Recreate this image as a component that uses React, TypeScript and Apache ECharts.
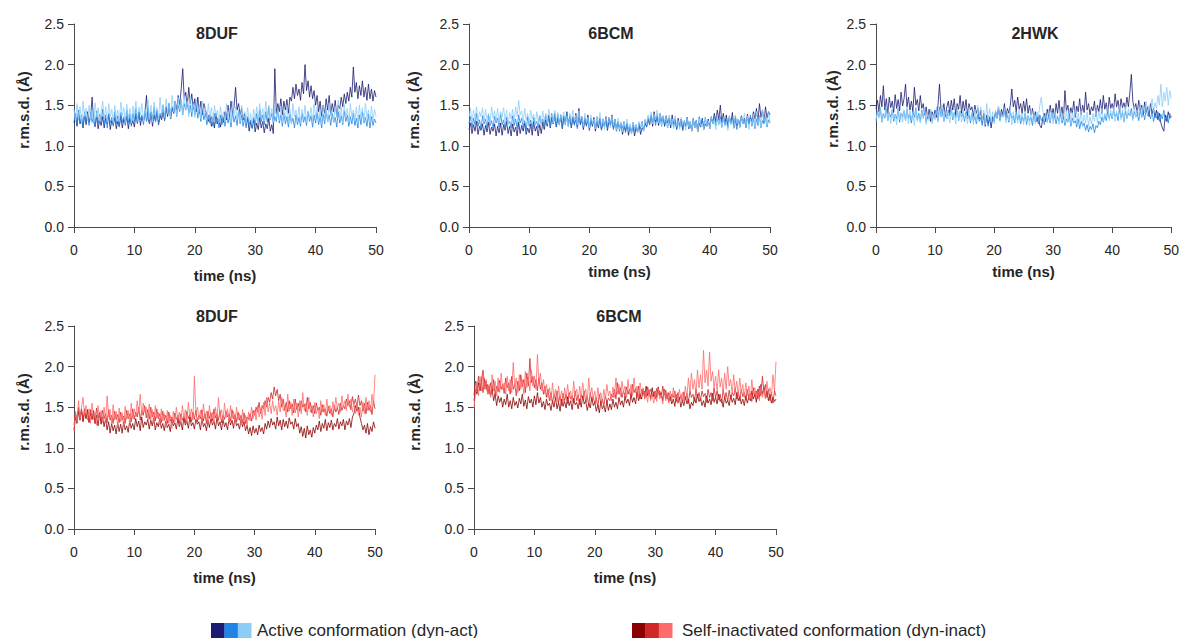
import React, { useEffect, useRef } from "react";
import * as echarts from "echarts";

// sampling: one value every 0.25 ns from 0 to 50 ns
const STEP_NS = 0.25;

const panelTitles = ["8DUF", "6BCM", "2HWK", "8DUF", "6BCM"];
const xTicks = [0, 10, 20, 30, 40, 50];
const yTicks = [0, 0.5, 1.0, 1.5, 2.0, 2.5];
const legendLabels = ["Active conformation (dyn-act)", "Self-inactivated conformation (dyn-inact)"];
const blueColors = ["#1b1b72", "#1f84e6", "#8ccdf8"];
const redColors = ["#8b0000", "#cf2626", "#ff6a6a"];

// Panel 1: 8DUF active
const duf8ActDark = [
  1.28,1.36,1.24,1.40,1.27,1.33,1.22,1.38,1.26,1.42,
  1.29,1.35,1.60,1.30,1.24,1.37,1.21,1.32,1.25,1.36,
  1.22,1.34,1.27,1.38,1.20,1.31,1.26,1.35,1.21,1.30,
  1.24,1.37,1.22,1.33,1.28,1.36,1.21,1.34,1.26,1.31,
  1.23,1.39,1.28,1.42,1.25,1.36,1.30,1.40,1.62,1.33,
  1.27,1.41,1.24,1.38,1.30,1.44,1.26,1.37,1.32,1.42,
  1.31,1.48,1.36,1.52,1.33,1.46,1.40,1.55,1.44,1.62,
  1.50,1.70,1.95,1.58,1.66,1.48,1.72,1.52,1.64,1.45,
  1.58,1.42,1.60,1.40,1.55,1.38,1.52,1.45,1.36,1.30,
  1.38,1.24,1.35,1.22,1.40,1.27,1.33,1.23,1.37,1.29,
  1.42,1.32,1.50,1.36,1.55,1.40,1.48,1.72,1.44,1.52,
  1.38,1.46,1.32,1.40,1.26,1.34,1.18,1.30,1.22,1.33,
  1.17,1.28,1.20,1.35,1.22,1.30,1.16,1.27,1.21,1.34,
  1.18,1.26,1.15,1.95,1.40,1.52,1.42,1.58,1.38,1.55,
  1.44,1.57,1.40,1.60,1.55,1.72,1.58,1.76,1.62,1.70,
  1.56,1.78,1.64,2.00,1.68,1.80,1.60,1.74,1.58,1.68,
  1.50,1.62,1.42,1.55,1.36,1.50,1.40,1.58,1.44,1.62,
  1.38,1.52,1.42,1.56,1.36,1.50,1.46,1.60,1.48,1.64,
  1.52,1.66,1.55,1.72,1.60,1.97,1.66,1.78,1.58,1.74,
  1.62,1.80,1.60,1.72,1.56,1.76,1.58,1.70,1.55,1.68,
  1.60,
];
const duf8ActMid = [
  1.30,1.40,1.26,1.44,1.28,1.38,1.24,1.42,1.30,1.36,
  1.25,1.41,1.29,1.37,1.23,1.43,1.27,1.39,1.31,1.45,
  1.26,1.38,1.22,1.40,1.28,1.35,1.24,1.42,1.27,1.37,
  1.23,1.41,1.29,1.36,1.25,1.44,1.28,1.39,1.24,1.40,
  1.30,1.46,1.27,1.41,1.32,1.38,1.26,1.43,1.30,1.47,
  1.28,1.42,1.33,1.48,1.30,1.44,1.27,1.40,1.34,1.50,
  1.32,1.46,1.38,1.52,1.34,1.48,1.40,1.55,1.36,1.50,
  1.42,1.56,1.38,1.52,1.44,1.58,1.40,1.50,1.36,1.54,
  1.38,1.50,1.34,1.46,1.30,1.44,1.32,1.40,1.26,1.38,
  1.28,1.36,1.24,1.40,1.27,1.34,1.22,1.38,1.26,1.35,
  1.24,1.40,1.28,1.36,1.23,1.42,1.29,1.37,1.25,1.43,
  1.27,1.38,1.24,1.34,1.22,1.36,1.26,1.32,1.21,1.35,
  1.25,1.40,1.28,1.44,1.30,1.38,1.26,1.42,1.29,1.48,
  1.32,1.40,1.27,1.36,1.30,1.45,1.28,1.38,1.24,1.40,
  1.27,1.36,1.23,1.39,1.28,1.34,1.22,1.38,1.26,1.35,
  1.24,1.40,1.29,1.36,1.25,1.42,1.30,1.37,1.23,1.38,
  1.28,1.41,1.26,1.36,1.22,1.39,1.27,1.44,1.30,1.38,
  1.25,1.40,1.29,1.35,1.23,1.42,1.28,1.37,1.26,1.43,
  1.30,1.38,1.24,1.36,1.27,1.40,1.25,1.34,1.22,1.38,
  1.26,1.42,1.28,1.35,1.24,1.39,1.22,1.36,1.25,1.33,
  1.28,
];
const duf8ActLight = [
  1.45,1.30,1.52,1.34,1.48,1.28,1.55,1.36,1.46,1.31,
  1.50,1.33,1.44,1.27,1.53,1.35,1.47,1.30,1.42,1.55,
  1.32,1.48,1.29,1.52,1.36,1.45,1.28,1.50,1.34,1.44,
  1.30,1.54,1.37,1.47,1.29,1.51,1.33,1.46,1.28,1.49,
  1.35,1.55,1.31,1.48,1.38,1.52,1.30,1.46,1.36,1.57,
  1.33,1.50,1.29,1.54,1.37,1.47,1.32,1.60,1.38,1.51,
  1.35,1.58,1.40,1.53,1.34,1.62,1.42,1.55,1.37,1.60,
  1.44,1.58,1.39,1.62,1.45,1.55,1.36,1.60,1.42,1.52,
  1.35,1.57,1.40,1.50,1.33,1.55,1.38,1.48,1.31,1.52,
  1.34,1.47,1.29,1.50,1.36,1.44,1.28,1.48,1.33,1.42,
  1.30,1.52,1.35,1.45,1.28,1.55,1.37,1.48,1.32,1.44,
  1.29,1.50,1.34,1.42,1.27,1.47,1.31,1.40,1.26,1.45,
  1.32,1.48,1.28,1.52,1.35,1.46,1.30,1.55,1.37,1.50,
  1.33,1.46,1.29,1.52,1.36,1.44,1.31,1.49,1.28,1.45,
  1.34,1.50,1.30,1.46,1.27,1.52,1.36,1.44,1.31,1.48,
  1.28,1.45,1.33,1.50,1.29,1.43,1.35,1.47,1.30,1.52,
  1.36,1.48,1.31,1.44,1.27,1.50,1.34,1.46,1.29,1.53,
  1.37,1.45,1.30,1.49,1.35,1.56,1.32,1.47,1.28,1.51,
  1.34,1.46,1.29,1.52,1.36,1.44,1.31,1.48,1.27,1.50,
  1.33,1.47,1.29,1.52,1.35,1.44,1.28,1.49,1.32,1.45,
  1.36,
];

// Panel 2: 6BCM active
const bcm6ActDark = [
  1.20,1.28,1.15,1.26,1.18,1.30,1.14,1.24,1.19,1.27,
  1.13,1.25,1.17,1.29,1.14,1.23,1.18,1.27,1.12,1.24,
  1.16,1.28,1.13,1.26,1.19,1.30,1.15,1.24,1.12,1.27,
  1.17,1.23,1.12,1.29,1.15,1.25,1.18,1.28,1.14,1.22,
  1.16,1.27,1.13,1.30,1.18,1.24,1.12,1.26,1.15,1.29,
  1.20,1.32,1.24,1.38,1.22,1.35,1.27,1.40,1.23,1.34,
  1.26,1.38,1.21,1.36,1.28,1.42,1.24,1.37,1.22,1.35,
  1.27,1.40,1.23,1.46,1.26,1.36,1.20,1.33,1.25,1.38,
  1.19,1.32,1.24,1.35,1.18,1.30,1.22,1.34,1.20,1.28,
  1.24,1.36,1.19,1.31,1.25,1.38,1.21,1.33,1.18,1.30,
  1.22,1.27,1.14,1.25,1.18,1.28,1.13,1.24,1.16,1.26,
  1.12,1.23,1.17,1.27,1.14,1.22,1.19,1.28,1.23,1.33,
  1.26,1.38,1.24,1.42,1.29,1.36,1.25,1.40,1.30,1.35,
  1.24,1.37,1.28,1.34,1.22,1.38,1.26,1.32,1.20,1.34,
  1.23,1.33,1.19,1.30,1.24,1.35,1.21,1.29,1.18,1.32,
  1.22,1.31,1.17,1.28,1.23,1.34,1.20,1.27,1.24,1.33,
  1.21,1.36,1.27,1.40,1.30,1.44,1.32,1.50,1.29,1.40,
  1.26,1.38,1.24,1.35,1.27,1.41,1.22,1.36,1.25,1.33,
  1.23,1.37,1.28,1.34,1.24,1.39,1.27,1.35,1.30,1.42,
  1.33,1.46,1.30,1.52,1.35,1.44,1.29,1.48,1.34,1.42,
  1.38,
];
const bcm6ActMid = [
  1.28,1.36,1.22,1.34,1.26,1.40,1.24,1.32,1.20,1.37,
  1.27,1.33,1.21,1.38,1.25,1.31,1.22,1.36,1.28,1.34,
  1.23,1.39,1.26,1.32,1.20,1.35,1.27,1.30,1.22,1.37,
  1.25,1.33,1.21,1.38,1.28,1.34,1.23,1.31,1.19,1.36,
  1.24,1.32,1.20,1.35,1.26,1.30,1.22,1.37,1.27,1.33,
  1.25,1.38,1.29,1.34,1.23,1.40,1.27,1.35,1.24,1.39,
  1.28,1.33,1.22,1.37,1.26,1.41,1.29,1.34,1.23,1.36,
  1.25,1.32,1.21,1.36,1.27,1.30,1.22,1.35,1.24,1.31,
  1.20,1.34,1.26,1.30,1.22,1.36,1.25,1.32,1.19,1.33,
  1.24,1.30,1.21,1.35,1.26,1.31,1.20,1.33,1.23,1.29,
  1.18,1.28,1.22,1.30,1.16,1.27,1.20,1.25,1.15,1.29,
  1.19,1.26,1.16,1.28,1.21,1.30,1.18,1.32,1.24,1.35,
  1.27,1.38,1.30,1.36,1.25,1.39,1.28,1.34,1.24,1.37,
  1.26,1.32,1.22,1.35,1.27,1.31,1.23,1.34,1.21,1.30,
  1.25,1.33,1.20,1.31,1.24,1.35,1.22,1.30,1.19,1.34,
  1.23,1.31,1.21,1.36,1.26,1.32,1.22,1.35,1.25,1.30,
  1.24,1.34,1.28,1.38,1.25,1.33,1.27,1.36,1.23,1.35,
  1.26,1.32,1.22,1.37,1.28,1.34,1.24,1.31,1.20,1.33,
  1.25,1.36,1.27,1.32,1.22,1.35,1.26,1.38,1.24,1.34,
  1.21,1.33,1.25,1.37,1.22,1.31,1.27,1.35,1.23,1.32,
  1.28,
];
const bcm6ActLight = [
  1.35,1.46,1.28,1.44,1.32,1.48,1.30,1.42,1.36,1.47,
  1.29,1.45,1.33,1.40,1.27,1.48,1.34,1.43,1.30,1.46,
  1.28,1.42,1.35,1.47,1.31,1.44,1.26,1.41,1.33,1.45,
  1.30,1.48,1.36,1.56,1.38,1.43,1.29,1.46,1.32,1.40,
  1.27,1.44,1.33,1.39,1.25,1.42,1.30,1.38,1.26,1.43,
  1.31,1.40,1.27,1.45,1.33,1.38,1.28,1.44,1.30,1.41,
  1.25,1.39,1.32,1.42,1.27,1.37,1.23,1.40,1.29,1.44,
  1.30,1.38,1.26,1.43,1.31,1.36,1.24,1.40,1.28,1.35,
  1.22,1.38,1.27,1.33,1.21,1.36,1.26,1.41,1.24,1.34,
  1.20,1.35,1.28,1.31,1.22,1.37,1.25,1.33,1.19,1.34,
  1.21,1.30,1.17,1.28,1.22,1.33,1.18,1.27,1.15,1.29,
  1.20,1.26,1.16,1.30,1.23,1.28,1.18,1.33,1.26,1.38,
  1.30,1.42,1.27,1.39,1.32,1.44,1.28,1.40,1.25,1.37,
  1.29,1.36,1.22,1.38,1.26,1.33,1.21,1.37,1.24,1.31,
  1.20,1.35,1.26,1.30,1.19,1.34,1.23,1.29,1.18,1.32,
  1.22,1.30,1.17,1.33,1.24,1.28,1.20,1.34,1.25,1.31,
  1.21,1.36,1.27,1.32,1.20,1.38,1.25,1.33,1.22,1.35,
  1.24,1.30,1.19,1.36,1.26,1.32,1.21,1.38,1.27,1.33,
  1.22,1.35,1.28,1.40,1.24,1.37,1.20,1.33,1.26,1.39,
  1.23,1.42,1.28,1.36,1.22,1.45,1.30,1.38,1.25,1.41,
  1.30,
];

// Panel 3: 2HWK active
const hwk2ActDark = [
  1.45,1.56,1.42,1.62,1.48,1.74,1.44,1.58,1.40,1.60,
  1.47,1.55,1.41,1.63,1.46,1.57,1.43,1.66,1.49,1.58,
  1.76,1.48,1.60,1.44,1.55,1.42,1.72,1.50,1.57,1.43,
  1.62,1.46,1.52,1.38,1.48,1.33,1.45,1.30,1.42,1.36,
  1.44,1.35,1.50,1.76,1.46,1.40,1.52,1.36,1.48,1.55,
  1.40,1.56,1.44,1.58,1.38,1.52,1.45,1.62,1.40,1.55,
  1.43,1.57,1.37,1.52,1.44,1.48,1.36,1.50,1.40,1.46,
  1.33,1.44,1.28,1.40,1.24,1.38,1.27,1.35,1.22,1.36,
  1.30,1.42,1.34,1.48,1.32,1.45,1.38,1.52,1.35,1.46,
  1.40,1.50,1.70,1.48,1.56,1.42,1.60,1.45,1.52,1.40,
  1.55,1.42,1.58,1.40,1.50,1.38,1.46,1.34,1.42,1.30,
  1.38,1.25,1.22,1.34,1.40,1.30,1.45,1.36,1.50,1.38,
  1.46,1.35,1.52,1.40,1.56,1.37,1.48,1.33,1.68,1.42,
  1.50,1.36,1.47,1.40,1.55,1.35,1.49,1.42,1.58,1.38,
  1.50,1.41,1.66,1.44,1.52,1.38,1.48,1.43,1.55,1.36,
  1.50,1.42,1.57,1.40,1.62,1.45,1.53,1.39,1.60,1.46,
  1.52,1.44,1.64,1.48,1.56,1.42,1.58,1.47,1.53,1.45,
  1.60,1.48,1.66,1.88,1.55,1.45,1.52,1.40,1.56,1.43,
  1.50,1.38,1.54,1.42,1.48,1.36,1.52,1.40,1.46,1.35,
  1.44,1.32,1.40,1.28,1.22,1.18,1.38,1.30,1.42,1.34,
  1.36,
];
const hwk2ActMid = [
  1.32,1.42,1.36,1.45,1.30,1.40,1.34,1.46,1.31,1.41,
  1.35,1.44,1.30,1.39,1.33,1.46,1.29,1.40,1.36,1.43,
  1.31,1.45,1.34,1.38,1.28,1.42,1.35,1.47,1.32,1.40,
  1.30,1.44,1.36,1.41,1.29,1.38,1.33,1.43,1.30,1.39,
  1.34,1.45,1.31,1.48,1.36,1.42,1.30,1.40,1.33,1.44,
  1.37,1.46,1.32,1.41,1.35,1.47,1.31,1.43,1.36,1.40,
  1.30,1.42,1.33,1.38,1.28,1.40,1.31,1.36,1.27,1.39,
  1.30,1.35,1.25,1.38,1.29,1.33,1.24,1.36,1.27,1.32,
  1.30,1.42,1.34,1.45,1.31,1.40,1.36,1.44,1.32,1.38,
  1.29,1.41,1.34,1.37,1.28,1.43,1.32,1.38,1.27,1.36,
  1.30,1.40,1.26,1.37,1.31,1.35,1.25,1.39,1.29,1.34,
  1.27,1.38,1.31,1.35,1.26,1.40,1.30,1.36,1.28,1.42,
  1.32,1.38,1.27,1.36,1.30,1.40,1.28,1.35,1.25,1.33,
  1.29,1.36,1.24,1.34,1.28,1.31,1.23,1.33,1.21,1.30,
  1.24,1.28,1.19,1.26,1.17,1.24,1.20,1.27,1.16,1.25,
  1.22,1.30,1.26,1.35,1.29,1.38,1.31,1.42,1.34,1.40,
  1.33,1.44,1.36,1.40,1.31,1.45,1.35,1.41,1.30,1.43,
  1.34,1.40,1.37,1.46,1.33,1.42,1.36,1.39,1.31,1.44,
  1.35,1.41,1.32,1.45,1.37,1.40,1.33,1.43,1.30,1.38,
  1.34,1.42,1.30,1.39,1.33,1.44,1.31,1.37,1.28,1.40,
  1.35,
];
const hwk2ActLight = [
  1.30,1.44,1.34,1.48,1.28,1.40,1.35,1.50,1.31,1.42,
  1.27,1.45,1.33,1.39,1.26,1.47,1.32,1.41,1.29,1.44,
  1.31,1.48,1.27,1.43,1.34,1.40,1.25,1.46,1.30,1.38,
  1.28,1.42,1.33,1.47,1.26,1.40,1.31,1.45,1.27,1.39,
  1.32,1.48,1.29,1.42,1.35,1.50,1.30,1.44,1.33,1.40,
  1.28,1.46,1.34,1.41,1.27,1.48,1.32,1.43,1.29,1.45,
  1.33,1.40,1.27,1.47,1.31,1.42,1.26,1.45,1.30,1.50,
  1.35,1.48,1.30,1.44,1.26,1.52,1.32,1.46,1.29,1.42,
  1.27,1.44,1.33,1.48,1.30,1.40,1.35,1.46,1.28,1.43,
  1.31,1.47,1.26,1.42,1.33,1.38,1.28,1.45,1.32,1.40,
  1.26,1.43,1.30,1.38,1.25,1.44,1.31,1.39,1.27,1.42,
  1.35,1.50,1.60,1.44,1.32,1.40,1.28,1.45,1.30,1.41,
  1.27,1.43,1.33,1.38,1.26,1.46,1.31,1.40,1.28,1.44,
  1.30,1.45,1.27,1.41,1.32,1.47,1.26,1.40,1.29,1.43,
  1.25,1.38,1.28,1.42,1.24,1.36,1.27,1.40,1.30,1.44,
  1.28,1.42,1.33,1.46,1.30,1.40,1.35,1.48,1.31,1.44,
  1.34,1.47,1.30,1.43,1.36,1.50,1.32,1.45,1.29,1.48,
  1.33,1.46,1.37,1.42,1.31,1.49,1.35,1.44,1.38,1.52,
  1.36,1.48,1.40,1.55,1.38,1.50,1.44,1.58,1.41,1.53,
  1.46,1.62,1.50,1.76,1.48,1.66,1.55,1.72,1.50,1.68,
  1.58,
];

// Panel 4: 8DUF self-inactivated
const duf8InDark = [
  1.22,1.38,1.30,1.45,1.34,1.48,1.32,1.44,1.36,1.47,
  1.31,1.43,1.35,1.46,1.30,1.40,1.27,1.42,1.29,1.38,
  1.26,1.36,1.22,1.32,1.18,1.30,1.21,1.28,1.17,1.31,
  1.20,1.29,1.18,1.32,1.22,1.27,1.19,1.33,1.24,1.30,
  1.22,1.36,1.26,1.33,1.21,1.38,1.25,1.32,1.28,1.35,
  1.23,1.34,1.27,1.37,1.22,1.31,1.26,1.36,1.24,1.30,
  1.21,1.33,1.25,1.29,1.20,1.35,1.27,1.31,1.23,1.36,
  1.26,1.32,1.22,1.37,1.28,1.33,1.24,1.38,1.27,1.31,
  1.23,1.35,1.29,1.32,1.22,1.37,1.26,1.30,1.21,1.34,
  1.25,1.36,1.28,1.33,1.23,1.38,1.27,1.32,1.22,1.35,
  1.26,1.31,1.22,1.36,1.28,1.34,1.24,1.37,1.27,1.30,
  1.23,1.35,1.26,1.32,1.21,1.28,1.17,1.25,1.15,1.27,
  1.18,1.24,1.16,1.28,1.20,1.25,1.17,1.30,1.23,1.33,
  1.25,1.36,1.28,1.32,1.23,1.38,1.27,1.34,1.22,1.35,
  1.26,1.33,1.24,1.37,1.29,1.32,1.23,1.36,1.26,1.30,
  1.18,1.26,1.14,1.24,1.12,1.27,1.16,1.22,1.13,1.25,
  1.18,1.28,1.22,1.33,1.20,1.30,1.24,1.35,1.21,1.31,
  1.25,1.34,1.22,1.30,1.26,1.36,1.23,1.32,1.27,1.35,
  1.22,1.33,1.28,1.36,1.25,1.38,1.42,1.52,1.45,1.50,
  1.38,1.30,1.22,1.28,1.18,1.30,1.16,1.26,1.20,1.32,
  1.24,
];
const duf8InMid = [
  1.28,1.42,1.36,1.50,1.38,1.46,1.33,1.48,1.36,1.44,
  1.32,1.47,1.35,1.42,1.30,1.49,1.37,1.44,1.33,1.46,
  1.36,1.42,1.31,1.47,1.34,1.40,1.30,1.45,1.35,1.41,
  1.31,1.44,1.34,1.39,1.30,1.46,1.36,1.42,1.32,1.48,
  1.35,1.44,1.38,1.50,1.34,1.46,1.40,1.52,1.37,1.47,
  1.35,1.50,1.38,1.44,1.33,1.48,1.36,1.42,1.31,1.45,
  1.34,1.40,1.30,1.44,1.33,1.38,1.31,1.43,1.35,1.40,
  1.30,1.42,1.34,1.39,1.31,1.45,1.36,1.41,1.32,1.44,
  1.35,1.46,1.32,1.40,1.36,1.47,1.33,1.42,1.30,1.45,
  1.36,1.43,1.33,1.48,1.37,1.42,1.34,1.46,1.31,1.40,
  1.35,1.45,1.38,1.42,1.33,1.47,1.36,1.41,1.32,1.44,
  1.34,1.40,1.31,1.43,1.30,1.38,1.35,1.42,1.33,1.46,
  1.40,1.50,1.44,1.56,1.42,1.52,1.48,1.58,1.50,1.62,
  1.56,1.68,1.60,1.75,1.64,1.72,1.58,1.66,1.50,1.60,
  1.46,1.56,1.44,1.58,1.48,1.54,1.43,1.60,1.47,1.55,
  1.45,1.58,1.50,1.54,1.44,1.62,1.48,1.56,1.43,1.52,
  1.42,1.55,1.46,1.50,1.40,1.53,1.44,1.48,1.39,1.51,
  1.42,1.48,1.38,1.52,1.44,1.50,1.41,1.55,1.46,1.52,
  1.48,1.60,1.52,1.58,1.47,1.63,1.54,1.60,1.50,1.65,
  1.52,1.58,1.45,1.55,1.42,1.56,1.46,1.52,1.41,1.58,
  1.48,
];
const duf8InLight = [
  1.20,1.45,1.32,1.58,1.36,1.50,1.62,1.40,1.52,1.34,
  1.48,1.30,1.55,1.35,1.44,1.28,1.52,1.36,1.46,1.31,
  1.50,1.33,1.64,1.38,1.47,1.29,1.53,1.34,1.45,1.27,
  1.49,1.32,1.43,1.26,1.51,1.35,1.46,1.30,1.55,1.36,
  1.48,1.38,1.58,1.42,1.66,1.40,1.55,1.44,1.50,1.36,
  1.54,1.34,1.47,1.30,1.52,1.36,1.44,1.28,1.48,1.33,
  1.42,1.25,1.46,1.30,1.40,1.24,1.45,1.32,1.50,1.35,
  1.44,1.30,1.52,1.36,1.47,1.31,1.56,1.38,1.48,1.34,
  1.88,1.42,1.50,1.35,1.46,1.32,1.54,1.38,1.45,1.30,
  1.52,1.36,1.44,1.31,1.50,1.35,1.62,1.38,1.47,1.33,
  1.55,1.37,1.48,1.32,1.52,1.36,1.45,1.30,1.50,1.34,
  1.42,1.28,1.47,1.31,1.40,1.26,1.44,1.33,1.50,1.36,
  1.46,1.34,1.52,1.38,1.48,1.35,1.56,1.40,1.62,1.44,
  1.55,1.42,1.58,1.45,1.52,1.40,1.57,1.44,1.62,1.46,
  1.50,1.38,1.66,1.45,1.56,1.40,1.60,1.43,1.55,1.38,
  1.58,1.42,1.68,1.46,1.55,1.40,1.62,1.44,1.52,1.38,
  1.56,1.42,1.50,1.36,1.58,1.44,1.53,1.40,1.60,1.45,
  1.52,1.40,1.57,1.46,1.62,1.48,1.55,1.44,1.64,1.50,
  1.58,1.46,1.66,1.50,1.60,1.44,1.56,1.42,1.54,1.40,
  1.50,1.38,1.56,1.42,1.62,1.46,1.58,1.44,1.66,1.52,
  1.90,
];

// Panel 5: 6BCM self-inactivated
const bcm6InDark = [
  1.58,1.72,1.66,1.80,1.70,1.84,1.95,1.74,1.82,1.68,
  1.76,1.64,1.72,1.58,1.66,1.52,1.64,1.56,1.62,1.50,
  1.60,1.53,1.66,1.50,1.58,1.48,1.62,1.52,1.57,1.49,
  1.61,1.54,1.66,1.51,1.59,1.48,1.63,1.55,1.60,1.50,
  1.64,1.53,1.68,1.55,1.62,1.50,1.57,1.47,1.60,1.52,
  1.55,1.46,1.58,1.50,1.62,1.48,1.56,1.45,1.60,1.51,
  1.57,1.49,1.63,1.52,1.58,1.47,1.61,1.53,1.56,1.48,
  1.60,1.50,1.64,1.54,1.58,1.46,1.55,1.49,1.62,1.52,
  1.56,1.45,1.53,1.43,1.57,1.48,1.52,1.44,1.58,1.46,
  1.54,1.47,1.60,1.50,1.56,1.48,1.62,1.53,1.58,1.50,
  1.64,1.55,1.60,1.52,1.66,1.56,1.62,1.54,1.68,1.58,
  1.66,1.60,1.72,1.62,1.76,1.64,1.70,1.60,1.74,1.63,
  1.70,1.62,1.75,1.64,1.68,1.58,1.72,1.61,1.66,1.57,
  1.63,1.54,1.60,1.51,1.65,1.55,1.62,1.50,1.58,1.52,
  1.63,1.54,1.60,1.48,1.56,1.52,1.62,1.55,1.66,1.57,
  1.61,1.52,1.58,1.50,1.64,1.55,1.60,1.53,1.67,1.56,
  1.62,1.54,1.66,1.57,1.60,1.50,1.63,1.55,1.58,1.52,
  1.65,1.56,1.61,1.53,1.68,1.58,1.63,1.54,1.60,1.52,
  1.64,1.55,1.62,1.58,1.70,1.60,1.66,1.56,1.72,1.62,
  1.78,1.66,1.74,1.62,1.70,1.58,1.66,1.55,1.62,1.57,
  1.60,
];
const bcm6InMid = [
  1.65,1.82,1.70,1.88,1.74,1.80,1.68,1.85,1.72,1.78,
  1.66,1.80,1.70,1.84,1.64,1.76,1.69,1.83,1.72,1.78,
  1.67,1.86,1.74,1.80,1.66,1.88,1.72,1.78,1.64,1.82,
  1.70,1.90,1.75,1.84,1.68,1.92,1.76,2.10,1.80,1.88,
  1.74,1.84,1.70,1.86,1.72,1.80,1.66,1.76,1.62,1.72,
  1.58,1.68,1.55,1.66,1.60,1.70,1.56,1.64,1.52,1.67,
  1.58,1.66,1.54,1.68,1.60,1.64,1.55,1.70,1.58,1.65,
  1.53,1.66,1.60,1.70,1.56,1.64,1.52,1.68,1.57,1.63,
  1.54,1.62,1.50,1.66,1.55,1.60,1.52,1.64,1.56,1.61,
  1.58,1.66,1.62,1.72,1.60,1.80,1.66,1.74,1.62,1.70,
  1.64,1.75,1.66,1.72,1.62,1.78,1.68,1.73,1.64,1.76,
  1.60,1.72,1.66,1.70,1.62,1.75,1.67,1.72,1.63,1.69,
  1.60,1.73,1.66,1.70,1.62,1.76,1.65,1.71,1.60,1.68,
  1.58,1.66,1.62,1.70,1.57,1.68,1.60,1.65,1.56,1.69,
  1.59,1.67,1.55,1.70,1.62,1.66,1.57,1.72,1.61,1.68,
  1.58,1.70,1.63,1.67,1.56,1.72,1.62,1.68,1.58,1.74,
  1.62,1.70,1.59,1.66,1.55,1.72,1.61,1.68,1.57,1.71,
  1.60,1.68,1.64,1.74,1.60,1.69,1.58,1.72,1.63,1.68,
  1.59,1.72,1.62,1.67,1.57,1.74,1.63,1.70,1.60,1.76,
  1.64,1.88,1.70,1.78,1.62,1.72,1.58,1.68,1.55,1.70,
  1.64,
];
const bcm6InLight = [
  1.48,1.70,1.82,1.64,1.88,1.70,1.96,1.72,1.84,1.66,
  1.78,1.62,1.90,1.70,1.82,1.64,1.86,1.68,1.92,1.72,
  1.80,1.66,1.88,1.70,1.84,1.68,2.05,1.75,1.86,1.68,
  1.90,1.72,1.84,1.66,1.94,1.74,1.86,1.70,1.96,1.76,
  1.88,1.72,2.15,1.80,1.92,1.70,1.84,1.66,1.78,1.62,
  1.74,1.58,1.80,1.62,1.72,1.56,1.76,1.60,1.70,1.55,
  1.74,1.60,1.78,1.62,1.70,1.57,1.82,1.64,1.72,1.58,
  1.76,1.62,1.80,1.65,1.72,1.58,1.86,1.64,1.74,1.60,
  1.70,1.56,1.74,1.60,1.68,1.55,1.72,1.60,1.78,1.64,
  1.70,1.58,1.75,1.62,1.86,1.66,1.78,1.63,1.82,1.68,
  1.76,1.62,1.84,1.66,1.78,1.64,1.86,1.68,1.76,1.62,
  1.80,1.66,1.74,1.60,1.70,1.56,1.72,1.58,1.66,1.55,
  1.70,1.57,1.73,1.60,1.66,1.54,1.71,1.58,1.68,1.55,
  1.70,1.58,1.74,1.61,1.66,1.56,1.72,1.60,1.68,1.57,
  1.76,1.62,1.86,1.68,1.92,1.72,1.84,1.66,1.96,1.74,
  1.90,1.72,2.20,1.80,1.96,1.76,2.18,1.82,1.94,1.74,
  1.88,1.70,1.96,1.75,1.86,1.68,1.92,1.72,2.00,1.76,
  1.84,1.66,1.90,1.70,1.82,1.64,1.86,1.68,1.78,1.62,
  1.80,1.64,1.76,1.60,1.84,1.66,1.74,1.62,1.70,1.58,
  1.76,1.62,1.72,1.60,1.82,1.66,1.74,1.64,1.90,1.70,
  2.06,
];

const panelSeries = [
  [duf8ActDark, duf8ActMid, duf8ActLight],
  [bcm6ActDark, bcm6ActMid, bcm6ActLight],
  [hwk2ActDark, hwk2ActMid, hwk2ActLight],
  [duf8InDark, duf8InMid, duf8InLight],
  [bcm6InDark, bcm6InMid, bcm6InLight],
];
const panelColors = [blueColors, blueColors, blueColors, redColors, redColors];

// layout (pixels)
const layout = [
  { left: 74, top: 24, width: 302, height: 203, titleX: 217, titleY: 33, yNameX: 23, yNameY: 110, xNameGap: 41 },
  { left: 469, top: 24, width: 301, height: 203, titleX: 611, titleY: 33, yNameX: 413, yNameY: 110, xNameGap: 37 },
  { left: 876, top: 24, width: 300, height: 203, titleX: 1035, titleY: 33, yNameX: 832, yNameY: 109, xNameGap: 37 },
  { left: 74, top: 326, width: 301, height: 203, titleX: 217, titleY: 316, yNameX: 23, yNameY: 412, xNameGap: 41 },
  { left: 474, top: 326, width: 302, height: 203, titleX: 619, titleY: 316, yNameX: 414, yNameY: 412, xNameGap: 41 },
];

const FONT = "'Liberation Sans', Arial, Helvetica, sans-serif";
const AXIS_COLOR = "#4a4a4a";
const LABEL_COLOR = "#262626";

function textEl(text: string, x: number, y: number, size: number, bold: boolean, rotation = 0, align = "center") {
  return {
    type: "text",
    x,
    y,
    rotation,
    silent: true,
    style: {
      text,
      fill: LABEL_COLOR,
      font: `${bold ? "bold " : ""}${size}px ${FONT}`,
      align,
      verticalAlign: "middle",
      textAlign: align,
      textVerticalAlign: "middle",
    },
  };
}

export default function App() {
  const ref = useRef<HTMLDivElement>(null);

  useEffect(() => {
    document.body.style.margin = "0";
    document.body.style.overflow = "hidden";
    if (!ref.current) return;
    const chart = echarts.init(ref.current, null, { renderer: "svg" });

    const grids = layout.map((l) => ({ left: l.left, top: l.top, width: l.width, height: l.height, containLabel: false }));

    const xAxes = layout.map((l, i) => ({
      type: "value",
      gridIndex: i,
      min: xTicks[0],
      max: xTicks[xTicks.length - 1],
      interval: xTicks[1] - xTicks[0],
      name: "time (ns)",
      nameLocation: "middle",
      nameGap: l.xNameGap,
      nameTextStyle: { fontFamily: FONT, fontWeight: "bold", fontSize: 15, color: LABEL_COLOR },
      axisLine: { show: true, lineStyle: { color: AXIS_COLOR, width: 1 } },
      axisTick: { show: true, length: 6, lineStyle: { color: AXIS_COLOR } },
      axisLabel: { fontFamily: FONT, fontSize: 14, color: LABEL_COLOR, margin: 16, showMaxLabel: true, showMinLabel: true },
      splitLine: { show: false },
    }));

    const yAxes = layout.map((_, i) => ({
      type: "value",
      gridIndex: i,
      min: yTicks[0],
      max: yTicks[yTicks.length - 1],
      interval: yTicks[1] - yTicks[0],
      axisLine: { show: true, lineStyle: { color: AXIS_COLOR, width: 1 } },
      axisTick: { show: true, length: 6, lineStyle: { color: AXIS_COLOR } },
      axisLabel: { fontFamily: FONT, fontSize: 14, color: LABEL_COLOR, margin: 10, formatter: (v: number) => v.toFixed(1) },
      splitLine: { show: false },
    }));

    const series: any[] = [];
    panelSeries.forEach((group, p) => {
      group.forEach((vals, k) => {
        series.push({
          type: "line",
          xAxisIndex: p,
          yAxisIndex: p,
          data: vals.map((v, i) => [i * STEP_NS, v]),
          showSymbol: false,
          symbol: "none",
          silent: true,
          lineStyle: { width: 1, color: panelColors[p][k], opacity: 0.8 },
        });
      });
    });

    const graphics: any[] = [];
    layout.forEach((l, i) => {
      graphics.push(textEl(panelTitles[i], l.titleX, l.titleY, 16, true));
      graphics.push(textEl("r.m.s.d. (Å)", l.yNameX, l.yNameY, 15, true, Math.PI / 2));
    });
    // legend
    const legendY = 623;
    const sq = 13.4;
    blueColors.forEach((c, k) => {
      graphics.push({ type: "rect", silent: true, shape: { x: 211 + k * sq, y: legendY, width: sq + 0.3, height: 15 }, style: { fill: c } });
    });
    redColors.forEach((c, k) => {
      graphics.push({ type: "rect", silent: true, shape: { x: 632 + k * sq, y: legendY, width: sq + 0.3, height: 15 }, style: { fill: c } });
    });
    graphics.push(textEl(legendLabels[0], 257, 630, 17, false, 0, "left"));
    graphics.push(textEl(legendLabels[1], 682, 630, 17, false, 0, "left"));

    chart.setOption({
      animation: false,
      backgroundColor: "#ffffff",
      grid: grids,
      xAxis: xAxes,
      yAxis: yAxes,
      series,
      graphic: graphics,
    });

    return () => chart.dispose();
  }, []);

  return <div ref={ref} style={{ width: 1182, height: 638 }} />;
}
